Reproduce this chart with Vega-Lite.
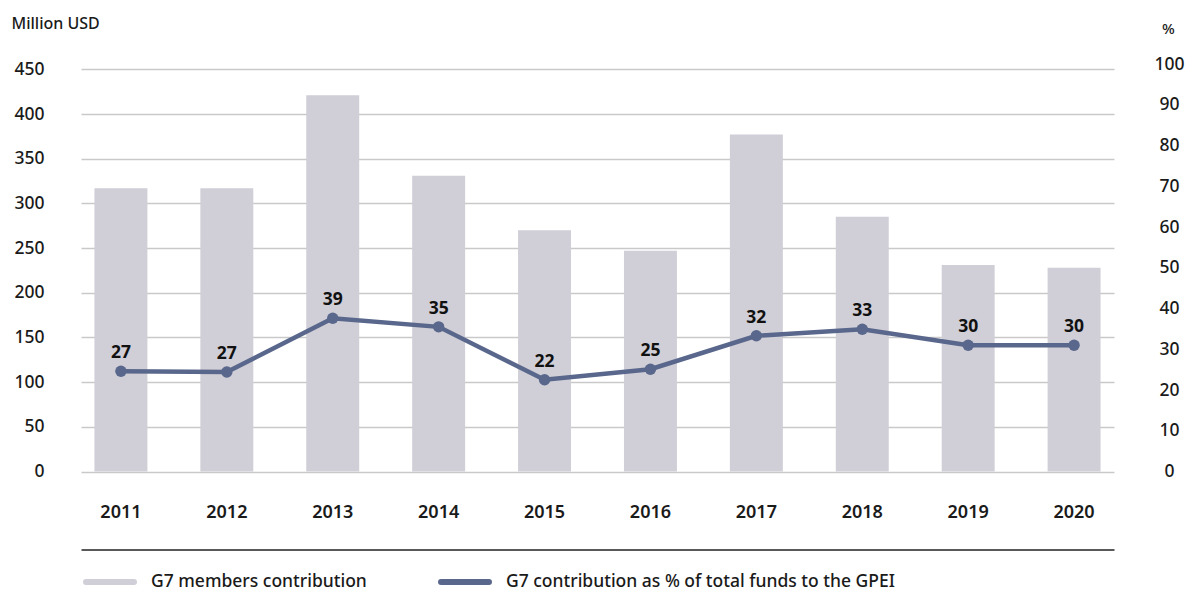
{
  "$schema": "https://vega.github.io/schema/vega-lite/v6.json",
  "width": 1033,
  "height": 407.5,
  "autosize": {"type": "none"},
  "padding": {"left": 81, "top": 64, "right": 72, "bottom": 122.5},
  "background": "#ffffff",
  "config": {
    "font": "Noto Sans",
    "view": {"stroke": null},
    "axis": {"labelColor": "#1a1a1a", "titleColor": "#1a1a1a"}
  },
  "data": {
    "values": [
      {"year": "2011", "contribution": 317, "share_plot": 24.6, "share_label": 27},
      {"year": "2012", "contribution": 317, "share_plot": 24.4, "share_label": 27},
      {"year": "2013", "contribution": 421, "share_plot": 37.6, "share_label": 39},
      {"year": "2014", "contribution": 331, "share_plot": 35.5, "share_label": 35},
      {"year": "2015", "contribution": 270, "share_plot": 22.5, "share_label": 22},
      {"year": "2016", "contribution": 247, "share_plot": 25.1, "share_label": 25},
      {"year": "2017", "contribution": 377, "share_plot": 33.3, "share_label": 32},
      {"year": "2018", "contribution": 285, "share_plot": 34.9, "share_label": 33},
      {"year": "2019", "contribution": 231, "share_plot": 31.0, "share_label": 30},
      {"year": "2020", "contribution": 228, "share_plot": 31.0, "share_label": 30}
    ]
  },
  "encoding": {
    "x": {
      "field": "year",
      "type": "ordinal",
      "scale": {"type": "band", "paddingInner": 0.5, "paddingOuter": 0.127},
      "axis": {
        "orient": "bottom",
        "title": null,
        "offset": 78,
        "domain": true,
        "domainColor": "#222222",
        "domainWidth": 1.5,
        "ticks": false,
        "tickSize": 0,
        "grid": false,
        "labelPadding": -37,
        "labelBaseline": "middle",
        "labelAngle": 0,
        "labelFontSize": 18,
        "labelFontWeight": 600
      }
    }
  },
  "layer": [
    {
      "mark": {"type": "bar"},
      "encoding": {
        "y": {
          "field": "contribution",
          "type": "quantitative",
          "scale": {"domain": [0, 456], "nice": false},
          "axis": {
            "orient": "left",
            "values": [0, 50, 100, 150, 200, 250, 300, 350, 400, 450],
            "title": "Million USD",
            "titleAngle": 0,
            "titleAlign": "left",
            "titleBaseline": "middle",
            "titleX": -70,
            "titleY": -41,
            "titleFontSize": 16,
            "titleFontWeight": 500,
            "domain": false,
            "ticks": false,
            "tickSize": 0,
            "grid": true,
            "gridColor": "#c9c9c9",
            "gridWidth": 1.5,
            "labelPadding": 37,
            "labelFontSize": 17.5,
            "labelFontWeight": 500
          }
        },
        "color": {
          "datum": "G7 members contribution",
          "type": "nominal",
          "scale": {
            "domain": ["G7 members contribution", "G7 contribution as % of total funds to the GPEI"],
            "range": ["#d0ced6", "#58678b"]
          },
          "legend": {
            "orient": "none",
            "direction": "horizontal",
            "legendX": 2,
            "legendY": 491,
            "title": null,
            "symbolType": "stroke",
            "symbolSize": 2300,
            "symbolStrokeWidth": 6,
            "labelFontSize": 17.5,
            "labelFontWeight": 500,
            "labelColor": "#1a1a1a",
            "labelOffset": 14,
            "columnPadding": 62,
            "labelLimit": 600,
            "encode": {
              "symbols": {
                "update": {
                  "stroke": {"scale": "color", "field": "value"},
                  "strokeCap": {"value": "round"}
                }
              }
            }
          }
        }
      }
    },
    {
      "encoding": {
        "y": {
          "field": "share_plot",
          "type": "quantitative",
          "scale": {"domain": [0, 100], "nice": false},
          "axis": {
            "orient": "right",
            "values": [0, 10, 20, 30, 40, 50, 60, 70, 80, 90, 100],
            "title": "%",
            "titleAngle": 0,
            "titleAlign": "center",
            "titleBaseline": "middle",
            "titleX": 54,
            "titleY": -36,
            "titleFontSize": 15,
            "titleFontWeight": 500,
            "domain": false,
            "ticks": false,
            "tickSize": 0,
            "grid": false,
            "labelAlign": "center",
            "labelPadding": 55,
            "labelFontSize": 17.5,
            "labelFontWeight": 500
          }
        }
      },
      "layer": [
        {
          "mark": {"type": "line", "strokeWidth": 4.5},
          "encoding": {
            "color": {"datum": "G7 contribution as % of total funds to the GPEI", "type": "nominal"}
          }
        },
        {
          "mark": {"type": "point", "filled": true, "size": 130, "opacity": 1},
          "encoding": {
            "color": {"datum": "G7 contribution as % of total funds to the GPEI", "type": "nominal"}
          }
        },
        {
          "mark": {"type": "text", "dy": -18, "fontSize": 17.5, "fontWeight": "bold", "color": "#111111", "baseline": "middle"},
          "encoding": {
            "text": {"field": "share_label", "type": "quantitative"}
          }
        }
      ]
    }
  ],
  "resolve": {"scale": {"y": "independent"}}
}
